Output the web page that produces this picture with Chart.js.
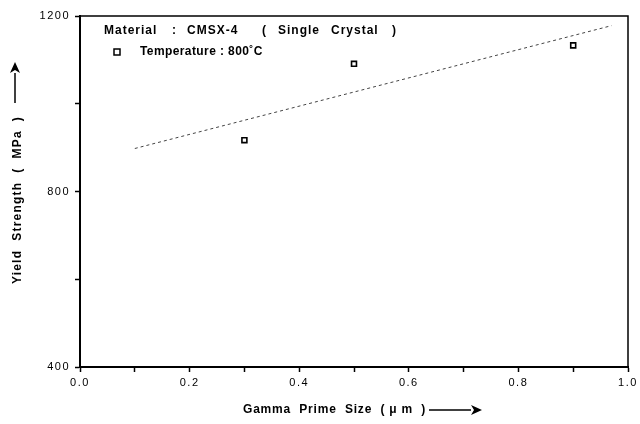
<!DOCTYPE html>
<html>
<head>
<meta charset="utf-8">
<script src="https://cdn.jsdelivr.net/npm/chart.js@4"></script>
<style>
  html, body { margin: 0; padding: 0; background: #fff; }
</style>
</head>
<body>
<canvas id="myChart" width="640" height="424"></canvas>
<script>
// measured points (gamma prime size in um, yield strength in MPa)
const sizes = [0.3, 0.5, 0.9];
const strengths = [917, 1091, 1133];
// fitted trend line end points as drawn
const fitSizes = [0.1, 0.97];
const fitStrengths = [898, 1178];
// labelled ticks
const xTickLabels = [0.0, 0.2, 0.4, 0.6, 0.8, 1.0];
const yTickLabels = [400, 800, 1200];

const FONT = "'Liberation Sans', Arial, sans-serif";

function toPoints(xs, ys) {
  return xs.map((x, i) => ({ x: x, y: ys[i] }));
}

function arrow(ctx, x1, y1, x2, y2) {
  // line with filled head at (x2, y2)
  const ang = Math.atan2(y2 - y1, x2 - x1);
  const hl = 11, hw = 5;
  const bx = x2 - Math.cos(ang) * hl, by = y2 - Math.sin(ang) * hl;
  ctx.beginPath();
  ctx.moveTo(x1, y1);
  ctx.lineTo(bx, by);
  ctx.lineWidth = 1.5;
  ctx.strokeStyle = "#000";
  ctx.stroke();
  ctx.beginPath();
  ctx.moveTo(x2, y2);
  ctx.lineTo(bx - Math.sin(ang) * hw, by + Math.cos(ang) * hw);
  ctx.lineTo(bx + Math.cos(ang) * 3, by + Math.sin(ang) * 3);
  ctx.lineTo(bx + Math.sin(ang) * hw, by - Math.cos(ang) * hw);
  ctx.closePath();
  ctx.fillStyle = "#000";
  ctx.fill();
}

const decorations = {
  id: "decorations",
  beforeDraw(chart) {
    // the original tick labels are typed with wide letter spacing
    chart.ctx.letterSpacing = "1.5px";
  },
  afterDraw(chart) {
    const ctx = chart.ctx;
    const a = chart.chartArea;
    ctx.save();

    // top and right frame
    ctx.strokeStyle = "#000";
    ctx.lineWidth = 1.5;
    ctx.beginPath();
    ctx.moveTo(a.left, a.top);
    ctx.lineTo(a.right, a.top);
    ctx.lineTo(a.right, a.bottom);
    ctx.stroke();

    // legend block
    ctx.fillStyle = "#000";
    ctx.textBaseline = "middle";
    ctx.textAlign = "left";
    ctx.font = "bold 12px " + FONT;
    ctx.letterSpacing = "1px";
    const y1 = a.top + 15;
    ctx.fillText("Material", 104, y1);
    ctx.fillText(":", 172, y1);
    ctx.fillText("CMSX-4", 187, y1);
    ctx.fillText("(", 262, y1);
    ctx.fillText("Single", 278, y1);
    ctx.fillText("Crystal", 331, y1);
    ctx.fillText(")", 392, y1);
    ctx.letterSpacing = "0.4px";
    ctx.fillText("Temperature : 800\u02DAC", 140, a.top + 36);
    ctx.lineWidth = 1.5;
    ctx.strokeStyle = "#000";
    ctx.fillStyle = "#fff";
    ctx.fillRect(114, a.top + 33, 6, 6);
    ctx.strokeRect(114, a.top + 33, 6, 6);

    // x axis title
    ctx.fillStyle = "#000";
    ctx.font = "bold 12px " + FONT;
    ctx.letterSpacing = "0.8px";
    ctx.textAlign = "left";
    ctx.fillText("Gamma  Prime  Size  ( \u03BC m  )", 243, 410);
    arrow(ctx, 429, 410, 482, 410);

    // y axis title
    ctx.save();
    ctx.translate(18, 200);
    ctx.rotate(-Math.PI / 2);
    ctx.font = "bold 12px " + FONT;
    ctx.letterSpacing = "1.2px";
    ctx.textAlign = "center";
    ctx.fillText("Yield  Strength  (  MPa  )", 0, 0);
    ctx.restore();
    arrow(ctx, 15, 103, 15, 62);

    ctx.restore();
  }
};

const ctx = document.getElementById("myChart").getContext("2d");

new Chart(ctx, {
  type: "scatter",
  data: {
    datasets: [
      {
        label: "Temperature : 800C",
        data: toPoints(sizes, strengths),
        pointStyle: "rect",
        pointRadius: 3.5,
        pointHoverRadius: 3.5,
        pointBorderWidth: 1.6,
        pointBorderColor: "#000",
        pointBackgroundColor: "#fff",
        showLine: false
      },
      {
        label: "fit",
        data: toPoints(fitSizes, fitStrengths),
        showLine: true,
        borderColor: "#444",
        borderWidth: 1,
        borderDash: [3, 3],
        pointRadius: 0,
        pointHoverRadius: 0
      }
    ]
  },
  options: {
    responsive: false,
    animation: false,
    devicePixelRatio: 1,
    layout: { padding: { left: 0, right: 12, top: 16, bottom: 0 } },
    plugins: {
      legend: { display: false },
      tooltip: { enabled: false }
    },
    scales: {
      x: {
        type: "linear",
        min: 0,
        max: 1,
        afterFit: (s) => { s.height = 57; },
        border: { display: true, color: "#000", width: 2 },
        grid: { drawOnChartArea: false, drawTicks: true, tickLength: 5, color: "#000", tickWidth: 1.5 },
        ticks: {
          stepSize: 0.1,
          autoSkip: false,
          maxRotation: 0,
          padding: 4,
          color: "#000",
          font: { family: FONT, size: 11 },
          callback: (v) => xTickLabels.some((t) => Math.abs(t - v) < 1e-6) ? Number(v).toFixed(1) : ""
        }
      },
      y: {
        type: "linear",
        min: 400,
        max: 1200,
        afterFit: (s) => { s.width = 80; },
        border: { display: true, color: "#000", width: 2 },
        grid: { drawOnChartArea: false, drawTicks: true, tickLength: 5, color: "#000", tickWidth: 1.5 },
        ticks: {
          stepSize: 200,
          autoSkip: false,
          padding: 5,
          color: "#000",
          font: { family: FONT, size: 11 },
          callback: (v) => yTickLabels.includes(v) ? String(v) : ""
        }
      }
    }
  },
  plugins: [decorations]
});
</script>
</body>
</html>
